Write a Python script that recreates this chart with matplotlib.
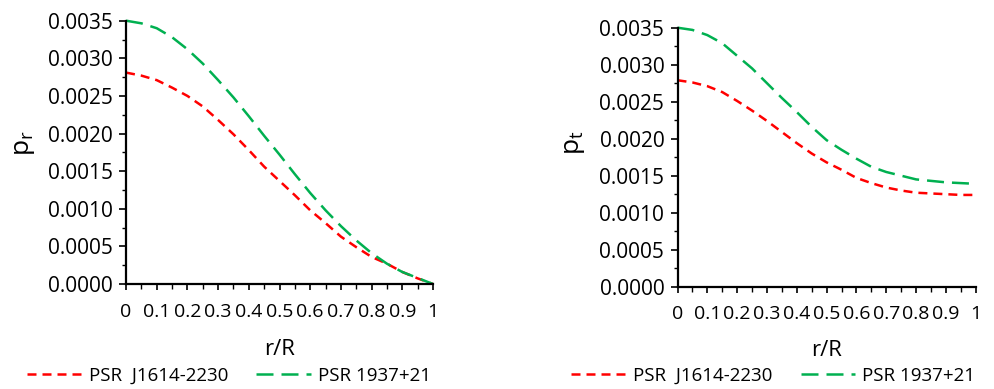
import numpy as np
import matplotlib
matplotlib.use("Agg")
import matplotlib.pyplot as plt
from matplotlib.ticker import MultipleLocator, FuncFormatter

plt.rcParams['font.family'] = ['Open Sans', 'DejaVu Sans']

# r/R grid (every 0.05)
r = [0.0, 0.05, 0.1, 0.15, 0.2, 0.25, 0.3, 0.35, 0.4, 0.45, 0.5,
     0.55, 0.6, 0.65, 0.7, 0.75, 0.8, 0.85, 0.9, 0.95, 1.0]

# radial pressure
pr_j1614 = [0.00281, 0.00277, 0.00271, 0.00261, 0.00250, 0.00236, 0.00218,
            0.00199, 0.00178, 0.00156, 0.00137, 0.00118, 0.00098, 0.00081,
            0.00063, 0.00049, 0.00036, 0.00027, 0.00016, 0.000075, 0.0]
pr_1937 = [0.00350, 0.003465, 0.00340, 0.00328, 0.00312, 0.00293, 0.00271,
           0.00248, 0.00223, 0.00197, 0.00172, 0.00146, 0.00121, 0.00098,
           0.00077, 0.00058, 0.00041, 0.00027, 0.00016, 0.00008, 0.0]

# tangential pressure
pt_j1614 = [0.00279, 0.00276, 0.00271, 0.00263, 0.00251, 0.00238, 0.00224,
            0.00209, 0.00194, 0.00180, 0.00168, 0.00158, 0.00147, 0.00140,
            0.00134, 0.00130, 0.00127, 0.00126, 0.00125, 0.00124, 0.00124]
pt_1937 = [0.00350, 0.00347, 0.00340, 0.00329, 0.00312, 0.00295, 0.00275,
           0.00255, 0.00236, 0.00216, 0.00198, 0.00185, 0.00173, 0.00162,
           0.00155, 0.00150, 0.00145, 0.00143, 0.00141, 0.00140, 0.00139]

labels = ["PSR  J1614-2230", "PSR 1937+21"]
RED = "#FF0000"
GREEN = "#00B050"


def style_axes(ax, ylabel, ylab_xy, xlab_y):
    ax.set_xlim(0, 1)
    ax.set_ylim(0, 0.0035)
    for side in ("top", "right"):
        ax.spines[side].set_visible(False)
    for side in ("left", "bottom"):
        ax.spines[side].set_linewidth(1.6)
    ax.xaxis.set_major_locator(MultipleLocator(0.1))
    ax.xaxis.set_minor_locator(MultipleLocator(0.05))
    ax.yaxis.set_major_locator(MultipleLocator(0.0005))
    ax.yaxis.set_minor_locator(MultipleLocator(0.00025))
    ax.xaxis.set_major_formatter(FuncFormatter(lambda v, p: f"{v:g}"))
    ax.yaxis.set_major_formatter(FuncFormatter(lambda v, p: f"{v:.4f}"))
    ax.tick_params(axis="y", which="major", direction="out", length=5, width=1.2,
                   labelsize=15, pad=4.5)
    ax.tick_params(axis="y", which="minor", direction="out", length=3, width=1.0)
    ax.tick_params(axis="x", which="major", direction="out", length=4.5, width=1.2,
                   labelsize=14, pad=9)
    ax.tick_params(axis="x", which="minor", direction="out", length=3.5, width=1.0)
    ax.set_xlabel("r/R", fontsize=16)
    ax.set_ylabel(ylabel, fontsize=19)
    ax.xaxis.set_label_coords(0.5, xlab_y)
    ax.yaxis.set_label_coords(*ylab_xy)


fig = plt.figure(figsize=(9.94, 3.89), dpi=100)
ax1 = fig.add_axes([0.1268, 0.2699, 0.3088, 0.6769])
ax2 = fig.add_axes([0.6816, 0.2630, 0.3000, 0.6658])

panels = (
    (ax1, pr_j1614, pr_1937, r"$\mathregular{p_r}$", 0.2304, (-0.29, 0.535), -0.21),
    (ax2, pt_j1614, pt_1937, r"$\mathregular{p_t}$", 0.7780, (-0.304, 0.555), -0.204),
)
for ax, red_vals, green_vals, ylab, cx, ylab_xy, xlab_y in panels:
    l1, = ax.plot(r, red_vals, color=RED, lw=1.8, dashes=(3.6, 2.4), clip_on=False)
    l2, = ax.plot(r, green_vals, color=GREEN, lw=1.8, dashes=(6.8, 3.2), clip_on=False)
    style_axes(ax, ylab, ylab_xy, xlab_y)
    fig.legend([l1, l2], labels, loc="center", bbox_to_anchor=(cx, 0.034),
               ncol=2, frameon=False, fontsize=13.5, handlelength=2.9,
               handletextpad=0.4, columnspacing=1.5, borderpad=0)

fig.savefig("out.png", dpi=100)
